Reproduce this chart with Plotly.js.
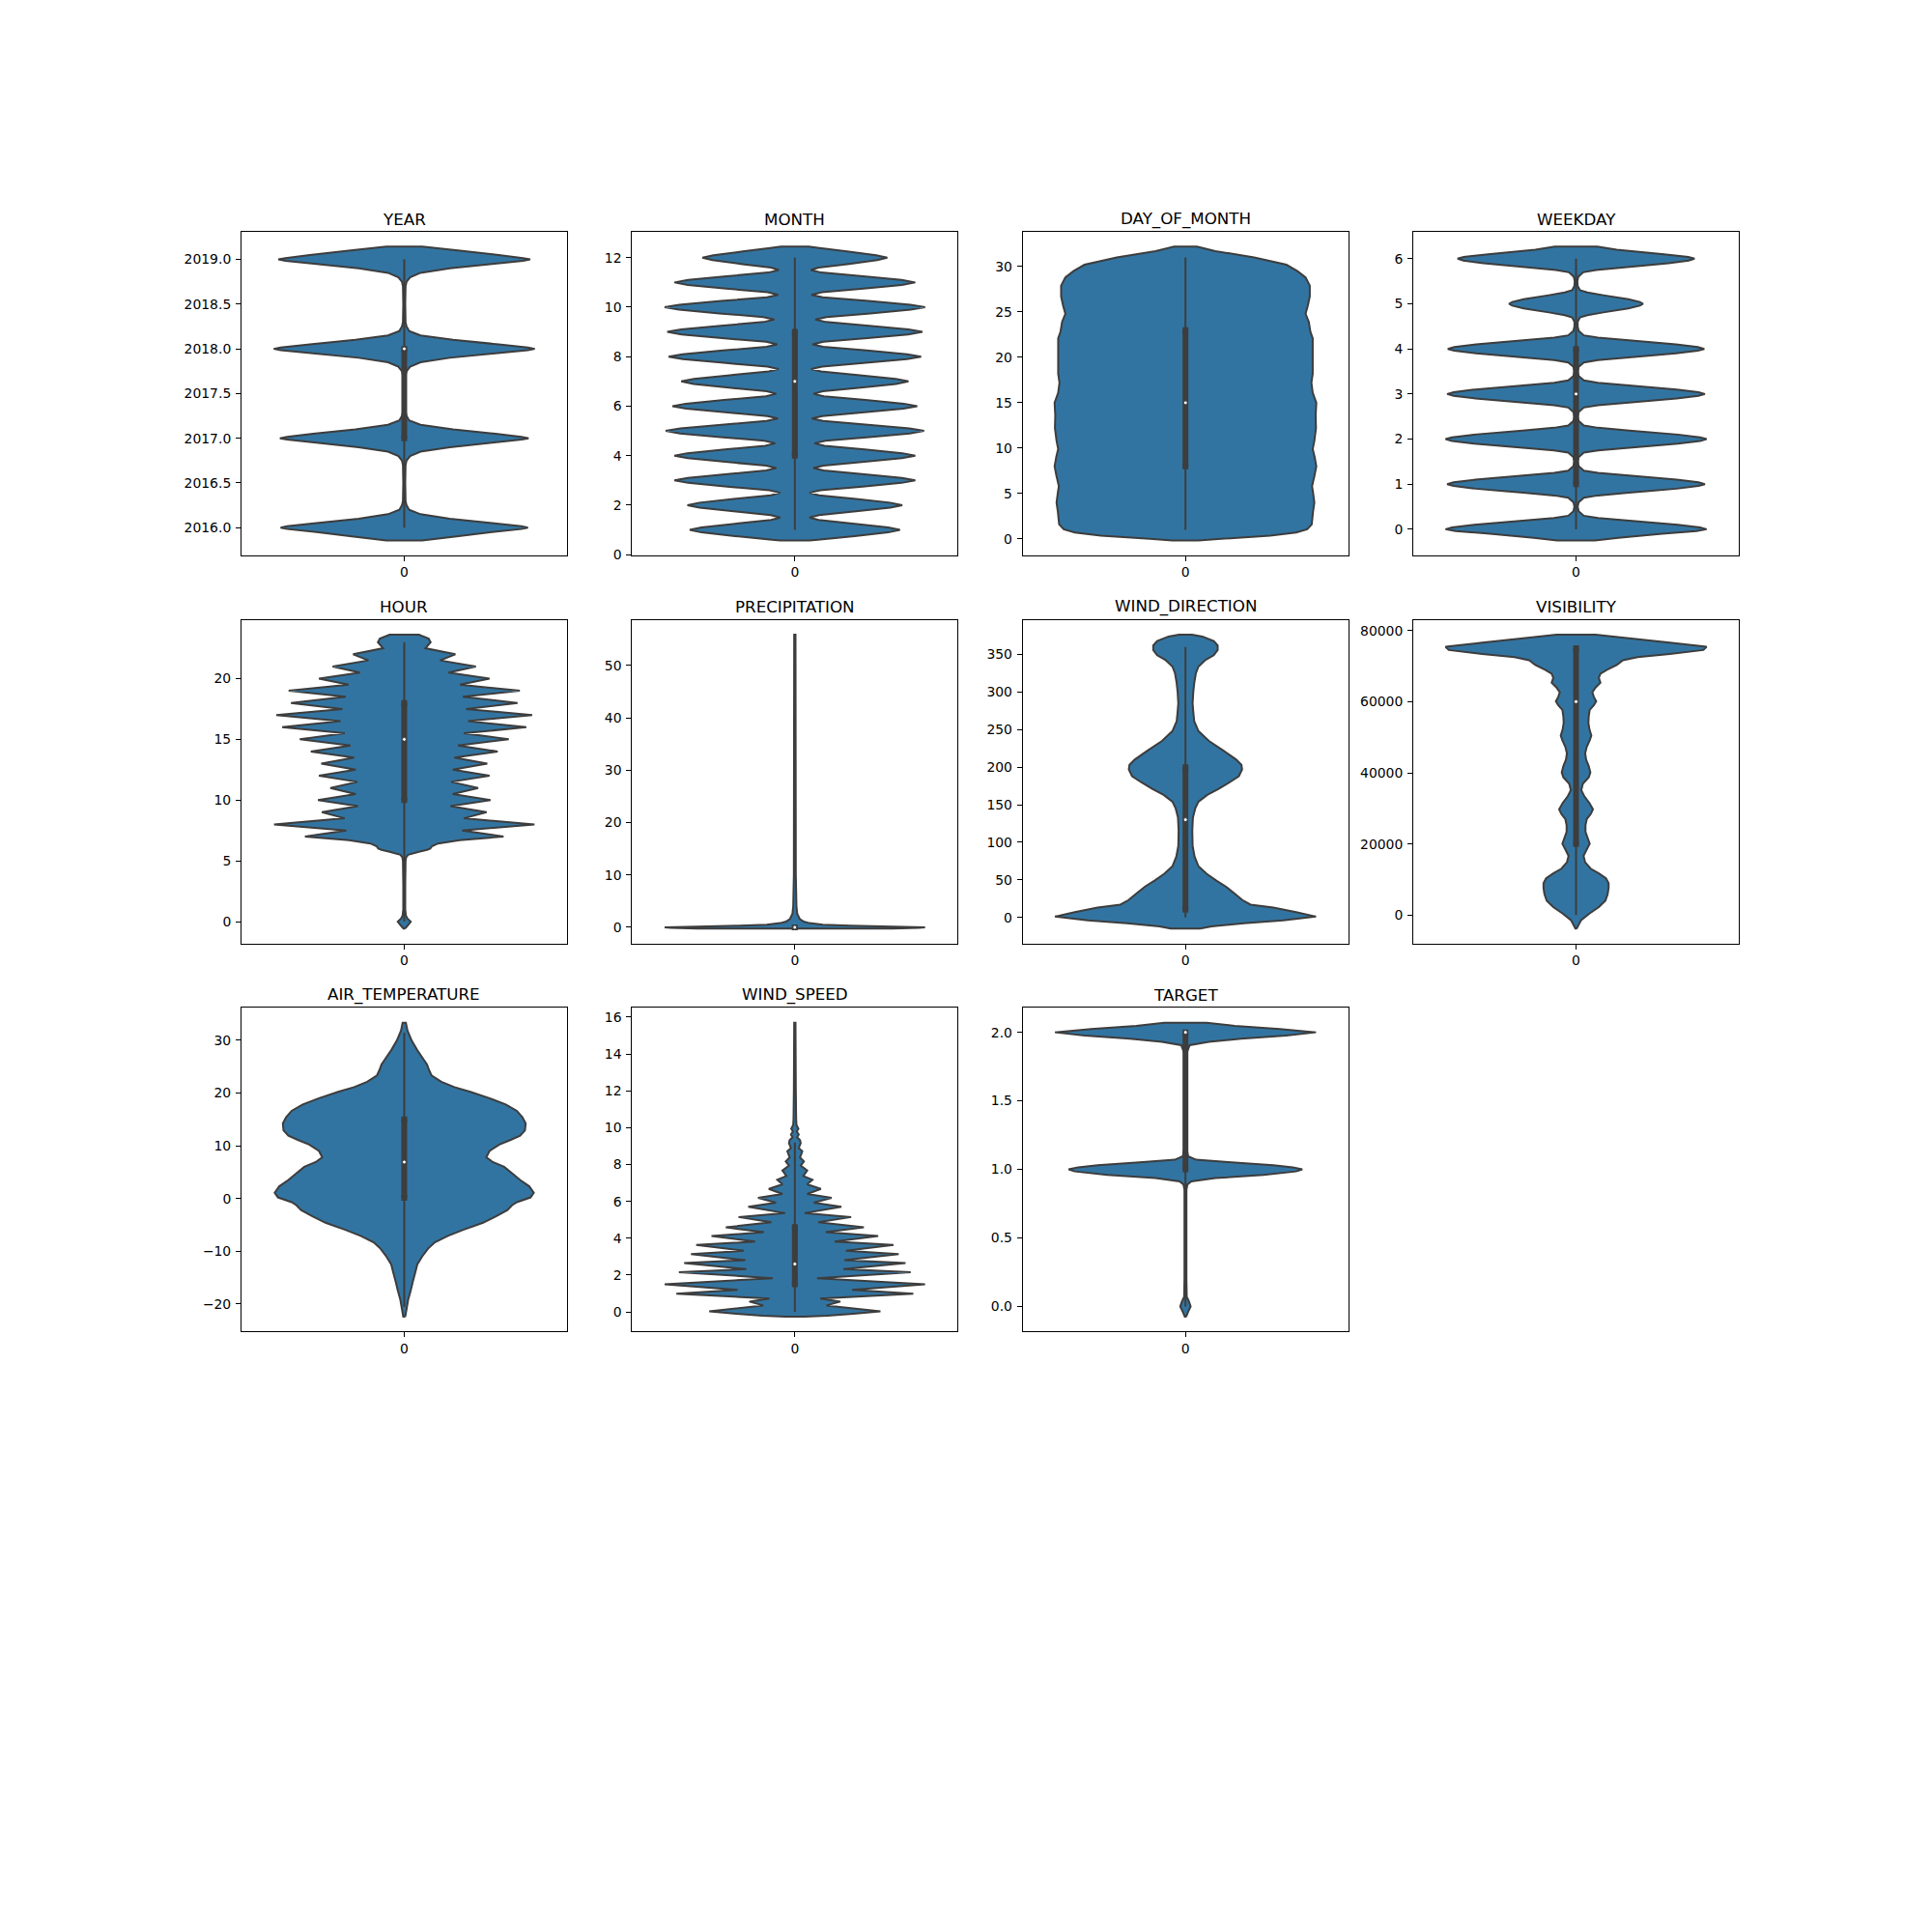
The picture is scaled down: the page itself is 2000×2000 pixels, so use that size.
<!DOCTYPE html>
<html><head><meta charset="utf-8">
<script src="https://cdn.plot.ly/plotly-3.0.1.min.js"></script>
<style>html,body{margin:0;padding:0;background:#fff}</style>
</head><body><div id="chart" style="width:2000px;height:2000px"></div>
<script>
// ---- data ----
const titles = ["YEAR","MONTH","DAY_OF_MONTH","WEEKDAY","HOUR","PRECIPITATION","WIND_DIRECTION","VISIBILITY","AIR_TEMPERATURE","WIND_SPEED","TARGET"];
const categories = ["0"];

// violin outlines: [value, half-width of the density shape]
const yearProfile = [[2015.856,0.055],[2015.9,0.155],[2015.95,0.27],[2015.985,0.36],[2016,0.38],[2016.015,0.36],[2016.05,0.27],[2016.1,0.14],[2016.15,0.05],[2016.2,0.015],[2016.25,0.007],[2016.3,0.004],[2016.5,0.003],[2016.7,0.004],[2016.75,0.007],[2016.8,0.018],[2016.85,0.05],[2016.9,0.14],[2016.95,0.27],[2016.985,0.36],[2017,0.382],[2017.015,0.36],[2017.05,0.28],[2017.1,0.15],[2017.15,0.05],[2017.2,0.015],[2017.25,0.007],[2017.3,0.004],[2017.5,0.003],[2017.7,0.004],[2017.75,0.007],[2017.8,0.018],[2017.85,0.05],[2017.9,0.14],[2017.95,0.28],[2017.985,0.38],[2018,0.401],[2018.015,0.38],[2018.05,0.29],[2018.1,0.15],[2018.15,0.05],[2018.2,0.015],[2018.25,0.007],[2018.3,0.004],[2018.5,0.003],[2018.7,0.004],[2018.75,0.007],[2018.8,0.018],[2018.85,0.05],[2018.9,0.14],[2018.95,0.27],[2018.985,0.365],[2019,0.387],[2019.015,0.365],[2019.05,0.29],[2019.1,0.165],[2019.144,0.055]];
const monthProfile = [[0.57,0.045],[0.6,0.07],[0.75,0.184],[0.9,0.287],[1,0.323],[1.1,0.287],[1.25,0.184],[1.4,0.073],[1.5,0.045],[1.6,0.074],[1.75,0.188],[1.9,0.293],[2,0.33],[2.1,0.293],[2.25,0.188],[2.4,0.074],[2.5,0.045],[2.6,0.078],[2.75,0.208],[2.9,0.328],[3,0.37],[3.1,0.329],[3.25,0.214],[3.4,0.088],[3.5,0.057],[3.6,0.088],[3.75,0.214],[3.9,0.329],[4,0.37],[4.1,0.33],[4.25,0.215],[4.4,0.091],[4.5,0.06],[4.6,0.094],[4.75,0.229],[4.9,0.353],[5,0.397],[5.1,0.352],[5.25,0.225],[5.4,0.087],[5.5,0.052],[5.6,0.084],[5.75,0.214],[5.9,0.334],[6,0.376],[6.1,0.335],[6.25,0.217],[6.4,0.089],[6.5,0.057],[6.6,0.086],[6.75,0.203],[6.9,0.311],[7,0.349],[7.1,0.31],[7.25,0.2],[7.4,0.08],[7.5,0.05],[7.6,0.084],[7.75,0.219],[7.9,0.344],[8,0.388],[8.1,0.345],[8.25,0.221],[8.4,0.087],[8.5,0.054],[8.6,0.088],[8.75,0.223],[8.9,0.348],[9,0.392],[9.1,0.349],[9.25,0.228],[9.4,0.096],[9.5,0.063],[9.6,0.097],[9.75,0.232],[9.9,0.356],[10,0.4],[10.1,0.355],[10.25,0.226],[10.4,0.086],[10.5,0.051],[10.6,0.083],[10.75,0.211],[10.9,0.329],[11,0.37],[11.1,0.328],[11.25,0.21],[11.4,0.081],[11.5,0.049],[11.6,0.073],[11.75,0.167],[11.9,0.253],[12,0.284],[12.1,0.25],[12.25,0.16],[12.4,0.07],[12.45,0.043]];
const dayProfile = [[-0.18,0.04],[0,0.11],[0.35,0.26],[0.7,0.34],[1.06,0.374],[1.6,0.388],[3,0.392],[4,0.396],[5.1,0.392],[5.8,0.389],[6.9,0.396],[8,0.402],[9,0.397],[9.9,0.391],[10.8,0.396],[12.2,0.401],[13.6,0.4],[15,0.402],[16.1,0.391],[17.2,0.387],[18.2,0.391],[20,0.391],[22.1,0.391],[22.8,0.384],[23.9,0.379],[24.8,0.369],[25.7,0.376],[26.7,0.382],[27.9,0.382],[28.8,0.369],[29.5,0.344],[30.2,0.31],[31,0.211],[31.7,0.092],[32.2,0.035]];
const weekdayProfile = [[-0.25,0.058],[-0.19,0.13],[-0.1,0.265],[-0.04,0.37],[0,0.401],[0.04,0.381],[0.1,0.313],[0.19,0.164],[0.25,0.068],[0.3,0.024],[0.4,0.008],[0.5,0.005],[0.6,0.008],[0.7,0.024],[0.75,0.067],[0.81,0.162],[0.9,0.309],[0.96,0.376],[1,0.396],[1.04,0.376],[1.1,0.309],[1.19,0.162],[1.25,0.067],[1.3,0.024],[1.4,0.008],[1.5,0.005],[1.6,0.008],[1.7,0.024],[1.75,0.068],[1.81,0.164],[1.9,0.313],[1.96,0.381],[2,0.401],[2.04,0.381],[2.1,0.313],[2.19,0.164],[2.25,0.068],[2.3,0.024],[2.4,0.008],[2.5,0.005],[2.6,0.008],[2.7,0.024],[2.75,0.067],[2.81,0.162],[2.9,0.309],[2.96,0.376],[3,0.396],[3.04,0.376],[3.1,0.309],[3.19,0.162],[3.25,0.067],[3.3,0.024],[3.4,0.008],[3.5,0.005],[3.6,0.008],[3.7,0.024],[3.75,0.067],[3.81,0.162],[3.9,0.307],[3.96,0.374],[4,0.394],[4.04,0.374],[4.1,0.307],[4.19,0.162],[4.25,0.067],[4.3,0.024],[4.4,0.008],[4.5,0.005],[4.6,0.005],[4.7,0.012],[4.75,0.035],[4.81,0.084],[4.9,0.161],[4.96,0.196],[5,0.206],[5.04,0.196],[5.1,0.161],[5.19,0.084],[5.25,0.035],[5.3,0.012],[5.4,0.005],[5.5,0.004],[5.6,0.007],[5.7,0.022],[5.75,0.062],[5.81,0.149],[5.9,0.284],[5.96,0.346],[6,0.364],[6.04,0.345],[6.1,0.27],[6.2,0.125],[6.27,0.065]];
const hourProfile = [[-0.58,0.002],[-0.5,0.005],[-0.25,0.013],[0,0.02],[0.25,0.01],[0.5,0.005],[1,0.003],[3,0.003],[5,0.004],[5.3,0.006],[5.5,0.012],[5.75,0.045],[5.9,0.07],[6,0.08],[6.2,0.085],[6.43,0.104],[6.7,0.17],[7,0.305],[7.5,0.178],[8,0.4],[8.5,0.183],[9,0.253],[9.5,0.142],[10,0.265],[10.5,0.149],[11,0.227],[11.5,0.144],[12,0.262],[12.5,0.149],[13,0.255],[13.5,0.154],[14,0.287],[14.5,0.165],[15,0.321],[15.5,0.183],[16,0.375],[16.5,0.196],[17,0.393],[17.5,0.19],[18,0.348],[18.5,0.18],[19,0.355],[19.5,0.171],[20,0.262],[20.5,0.136],[21,0.22],[21.5,0.11],[22,0.157],[22.5,0.065],[23,0.081],[23.3,0.075],[23.62,0.045]];
const precipitationProfile = [[-0.25,0.3],[-0.1,0.38],[0,0.4],[0.15,0.3],[0.3,0.17],[0.5,0.086],[0.8,0.045],[1.1,0.027],[1.6,0.015],[2.6,0.0074],[4,0.005],[10,0.003],[55.9,0.002]];
const windDirectionProfile = [[-15,0.045],[-12,0.08],[-8,0.18],[-4,0.3],[1,0.401],[7,0.34],[13,0.27],[17,0.2],[23,0.175],[32,0.15],[41,0.124],[49,0.095],[58,0.065],[68,0.04],[81,0.028],[95,0.022],[116,0.021],[133,0.023],[145,0.03],[154,0.04],[163,0.067],[171,0.102],[180,0.136],[188,0.164],[197,0.174],[203,0.172],[210,0.156],[222,0.117],[235,0.072],[248,0.04],[261,0.027],[274,0.024],[285,0.022],[300,0.024],[312,0.027],[325,0.032],[334,0.04],[343,0.062],[349,0.087],[356,0.099],[362,0.099],[368,0.087],[374,0.052],[376.5,0.02]];
const visibilityProfile = [[-3784,0.002],[-2700,0.008],[-1350,0.016],[450,0.041],[2250,0.07],[4050,0.09],[5860,0.097],[7660,0.1],[9010,0.1],[10360,0.092],[11710,0.07],[13060,0.045],[14860,0.028],[16670,0.023],[18470,0.033],[20090,0.042],[21620,0.036],[23420,0.029],[25230,0.029],[27030,0.033],[28380,0.045],[29730,0.052],[31530,0.041],[33330,0.026],[35130,0.016],[36940,0.021],[38740,0.039],[40090,0.044],[41890,0.039],[43690,0.031],[45500,0.028],[47300,0.033],[49100,0.042],[50450,0.047],[52250,0.041],[54050,0.038],[55860,0.039],[57660,0.042],[59010,0.055],[60090,0.062],[61260,0.055],[62610,0.05],[63960,0.06],[65320,0.075],[66670,0.07],[67840,0.075],[68920,0.095],[70270,0.125],[71620,0.144],[72520,0.189],[73420,0.288],[74500,0.391],[75400,0.401],[76580,0.288],[77930,0.149],[78830,0.06]];
const airTemperatureProfile = [[-22.4,0.003],[-21,0.007],[-19.2,0.012],[-17.4,0.02],[-15.6,0.027],[-13.75,0.035],[-12.5,0.04],[-11,0.055],[-9.5,0.073],[-8.3,0.094],[-7.1,0.134],[-5.9,0.183],[-4.6,0.242],[-3.4,0.282],[-2.2,0.317],[-1.3,0.331],[-0.7,0.346],[0.2,0.388],[1.1,0.398],[2.3,0.384],[3.5,0.356],[4.8,0.331],[6,0.307],[6.9,0.272],[7.8,0.252],[9,0.262],[10.2,0.292],[11.1,0.327],[11.9,0.356],[12.9,0.371],[14.2,0.373],[15.4,0.363],[16.6,0.346],[17.8,0.312],[19,0.262],[20.2,0.203],[21.1,0.154],[22.1,0.114],[23.3,0.084],[24.5,0.075],[25.4,0.07],[26.3,0.06],[28.1,0.04],[29.9,0.023],[31.8,0.01],[33.3,0.005]];
const windSpeedProfile = [[-0.26,0.03],[-0.2,0.1],[-0.1,0.18],[0.03,0.263],[0.35,0.097],[0.56,0.14],[0.73,0.078],[0.99,0.364],[1.2,0.176],[1.5,0.4],[1.83,0.068],[2.16,0.356],[2.32,0.149],[2.65,0.34],[2.81,0.152],[3.14,0.319],[3.32,0.157],[3.63,0.303],[3.82,0.122],[4.12,0.256],[4.33,0.095],[4.59,0.212],[4.87,0.072],[5.15,0.173],[5.36,0.03],[5.71,0.143],[5.93,0.058],[6.19,0.113],[6.4,0.038],[6.68,0.08],[6.93,0.038],[7.17,0.054],[7.38,0.026],[7.68,0.038],[7.94,0.018],[8.17,0.028],[8.38,0.016],[8.72,0.023],[8.9,0.012],[9.16,0.018],[9.33,0.016],[9.48,0.007],[9.63,0.012],[9.8,0.006],[9.95,0.011],[10.15,0.005],[10.5,0.004],[12,0.003],[15.7,0.002]];
const targetProfile = [[-0.075,0.002],[-0.04,0.008],[0,0.016],[0.04,0.01],[0.07,0.004],[0.2,0.003],[0.85,0.003],[0.89,0.006],[0.912,0.018],[0.936,0.092],[0.96,0.24],[0.985,0.34],[1,0.359],[1.015,0.33],[1.03,0.27],[1.053,0.131],[1.07,0.033],[1.095,0.008],[1.15,0.004],[1.85,0.004],[1.906,0.013],[1.93,0.072],[1.953,0.171],[1.977,0.309],[2,0.401],[2.023,0.29],[2.047,0.151],[2.07,0.065]];

// inner box statistics
const whiskerLow  = [2016, 1, 1, 0, 0, 0, 0, 0, -20.5, 0, 0];
const quartile1   = [2017, 4, 8, 1, 10, 0, 10, 20000, 0.1, 1.5, 1];
const medians     = [2018, 7, 15, 3, 15, 0, 130, 60000, 6.9, 2.6, 2];
const quartile3   = [2018, 9, 23, 4, 18, 0, 200, 75000, 15, 4.6, 2];
const whiskerHigh = [2019, 12, 31, 6, 23, 0, 360, 75000, 31.4, 9.2, 2];

// tick steps / formats
const tickSteps   = [0.5, 2, 5, 1, 5, 10, 50, 20000, 10, 2, 0.5];
const tickFormats = [".1f", "", "", "", "", "", "", "d", "", "", ".1f"];

const profiles = [yearProfile, monthProfile, dayProfile, weekdayProfile, hourProfile, precipitationProfile, windDirectionProfile, visibilityProfile, airTemperatureProfile, windSpeedProfile, targetProfile];

// ---- drawing ----
const FILL = '#3274a1', GRAY = '#3d3d3d';
const colX = [[0.125,0.29348],[0.32717,0.49565],[0.52935,0.69783],[0.73152,0.9]];
const rowY = [[0.71261,0.88],[0.51174,0.67913],[0.31087,0.47826]];
const traces = [];
const layout = {
  width: 2000, height: 2000, margin: {l:0,r:0,t:0,b:0},
  paper_bgcolor: '#fff', plot_bgcolor: '#fff', showlegend: false,
  font: {family: 'DejaVu Sans', size: 13.9, color: '#000'},
  annotations: []
};

titles.forEach((title, i) => {
  const n = i + 1;
  const xa = n === 1 ? 'x' : 'x' + n;
  const ya = n === 1 ? 'y' : 'y' + n;
  const prof = profiles[i];
  const vals = prof.map(p => p[0]);
  const half = prof.map(p => p[1]);
  const pos = 0; // category position
  const xs = half.map(w => pos + w).concat(half.slice().reverse().map(w => pos - w)).concat([pos + half[0]]);
  const ys = vals.concat(vals.slice().reverse()).concat([vals[0]]);
  traces.push({type:'scatter', mode:'lines', x: xs, y: ys, xaxis: xa, yaxis: ya,
    fill:'toself', fillcolor: FILL, line:{color: GRAY, width: 2, simplify: false}, hoverinfo:'skip'});
  traces.push({type:'scatter', mode:'lines', x:[pos,pos], y:[whiskerLow[i], whiskerHigh[i]], xaxis: xa, yaxis: ya,
    line:{color: GRAY, width: 2}, hoverinfo:'skip'});
  traces.push({type:'scatter', mode:'lines+markers', x:[pos,pos], y:[quartile1[i], quartile3[i]], xaxis: xa, yaxis: ya,
    line:{color: GRAY, width: 6}, marker:{symbol:'square', size: 6, color: GRAY, line:{width:0}}, hoverinfo:'skip'});
  traces.push({type:'scatter', mode:'markers', x:[pos], y:[medians[i]], xaxis: xa, yaxis: ya,
    marker:{color:'#fff', size: 4, line:{color: GRAY, width: 1}}, hoverinfo:'skip'});

  const lo = Math.min(...vals), hi = Math.max(...vals), span = hi - lo;
  const col = i % 4, row = Math.floor(i / 4);
  const axKey = n === 1 ? '' : String(n);
  const common = {showline:true, mirror:true, linecolor:'#000', linewidth:1, ticks:'outside', ticklen:5, tickwidth:1,
    tickcolor:'#000', showgrid:false, zeroline:false, tickfont:{family:'DejaVu Sans', size:13.9, color:'#000'}};
  layout['xaxis' + axKey] = Object.assign({}, common, {domain: colX[col], anchor: ya, range: [-0.5, 0.5],
    tickmode:'array', tickvals:[pos], ticktext: categories, ticklabelstandoff: 0, fixedrange:true});
  layout['yaxis' + axKey] = Object.assign({}, common, {domain: rowY[row], anchor: xa,
    range: [lo - 0.05 * span, hi + 0.05 * span], tickmode:'linear', tick0: 0, dtick: tickSteps[i],
    tickformat: tickFormats[i], ticklabelstandoff: 2, fixedrange:true});
  layout.annotations.push({xref:'paper', yref:'paper', x:(colX[col][0] + colX[col][1]) / 2, y: rowY[row][1],
    xanchor:'center', yanchor:'bottom', yshift: 1.5, showarrow:false, text: title,
    font:{family:'DejaVu Sans', size:16.7, color:'#000'}});
});

Plotly.newPlot('chart', traces, layout, {staticPlot:true, displayModeBar:false});
</script>
</body></html>
